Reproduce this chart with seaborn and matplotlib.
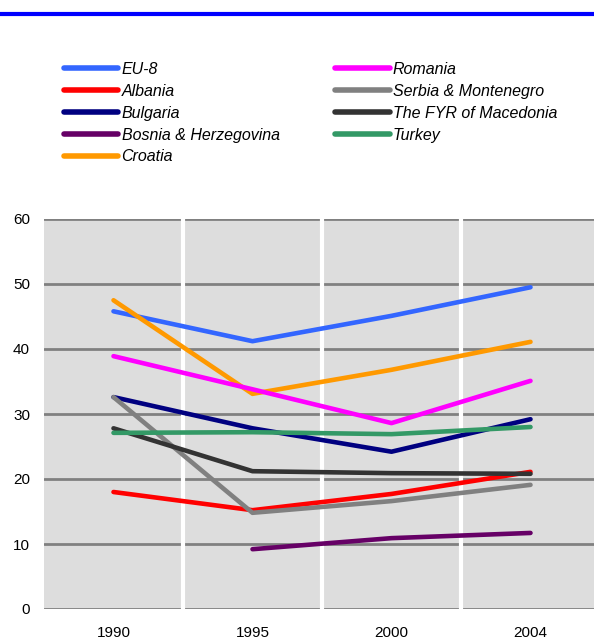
import pandas as pd
import matplotlib.pyplot as plt
import seaborn as sns
from matplotlib.lines import Line2D

years = ["1990", "1995", "2000", "2004"]
countries = ["EU-8", "Albania", "Bulgaria", "Bosnia & Herzegovina", "Croatia",
             "Romania", "Serbia & Montenegro", "The FYR of Macedonia", "Turkey"]
eu8 = [45.8, 41.2, 45.1, 49.5]
albania = [18.0, 15.2, 17.7, 21.1]
bulgaria = [32.6, 27.8, 24.2, 29.2]
bosnia = [None, 9.2, 10.9, 11.7]
croatia = [47.5, 33.1, 36.8, 41.1]
romania = [38.9, 33.8, 28.6, 35.1]
serbia = [32.6, 14.8, 16.6, 19.1]
macedonia = [27.8, 21.2, 20.9, 20.8]
turkey = [27.1, 27.2, 26.9, 28.0]
colors = ["#3366FF", "#FF0000", "#000080", "#660066", "#FF9900",
          "#FF00FF", "#808080", "#333333", "#339966"]

series = [eu8, albania, bulgaria, bosnia, croatia, romania, serbia, macedonia, turkey]
rows = []
for c, vals in zip(countries, series):
    for y, v in zip(years, vals):
        if v is not None:
            rows.append({"year": y, "value": v, "country": c})
df = pd.DataFrame(rows)

sns.set_style("white")
plt.rcParams["font.family"] = ["Liberation Sans", "DejaVu Sans"]
plt.rcParams["text.color"] = "black"

fig = plt.figure(figsize=(5.94, 6.39), dpi=100)
ax = fig.add_axes([44 / 594, 1 - 609 / 639, 556 / 594, 390 / 639])
ax.set_facecolor("#DDDDDD")

sns.lineplot(data=df, x="year", y="value", hue="country", hue_order=countries,
             palette=dict(zip(countries, colors)), linewidth=3.3, errorbar=None,
             sort=False, ax=ax, legend=False, solid_capstyle="round")

ax.set_xlim(-0.5, 3.5)
ax.set_ylim(0, 60)
ax.set_yticks(range(0, 61, 10))
for v in range(0, 61, 10):
    ax.axhline(v, color="#808080", lw=2, zorder=1)
for xv in [0.5, 1.5, 2.5]:
    ax.axvline(xv, color="white", lw=3, zorder=1)
for s in ax.spines.values():
    s.set_visible(False)
ax.set_xlabel("")
ax.set_ylabel("")
ax.tick_params(axis="both", length=0, labelsize=11, colors="black")
ax.tick_params(axis="y", pad=10)
ax.tick_params(axis="x", pad=12)

handles = [Line2D([0], [0], color=c, lw=4, solid_capstyle="round") for c in colors]
fig.legend(handles, countries, loc="upper left", bbox_to_anchor=(64 / 594, 1 - 62 / 639),
           ncol=2, frameon=False, prop={"style": "italic", "size": 11.5},
           labelcolor="black",
           handlelength=3.4, handletextpad=0.2, columnspacing=3.5,
           labelspacing=0.43, borderpad=0, borderaxespad=0)

fig.add_artist(Line2D([0, 1], [1 - 14 / 639, 1 - 14 / 639], color="#0000FF", lw=3,
                      transform=fig.transFigure))

fig.savefig("out.png", dpi=100)
